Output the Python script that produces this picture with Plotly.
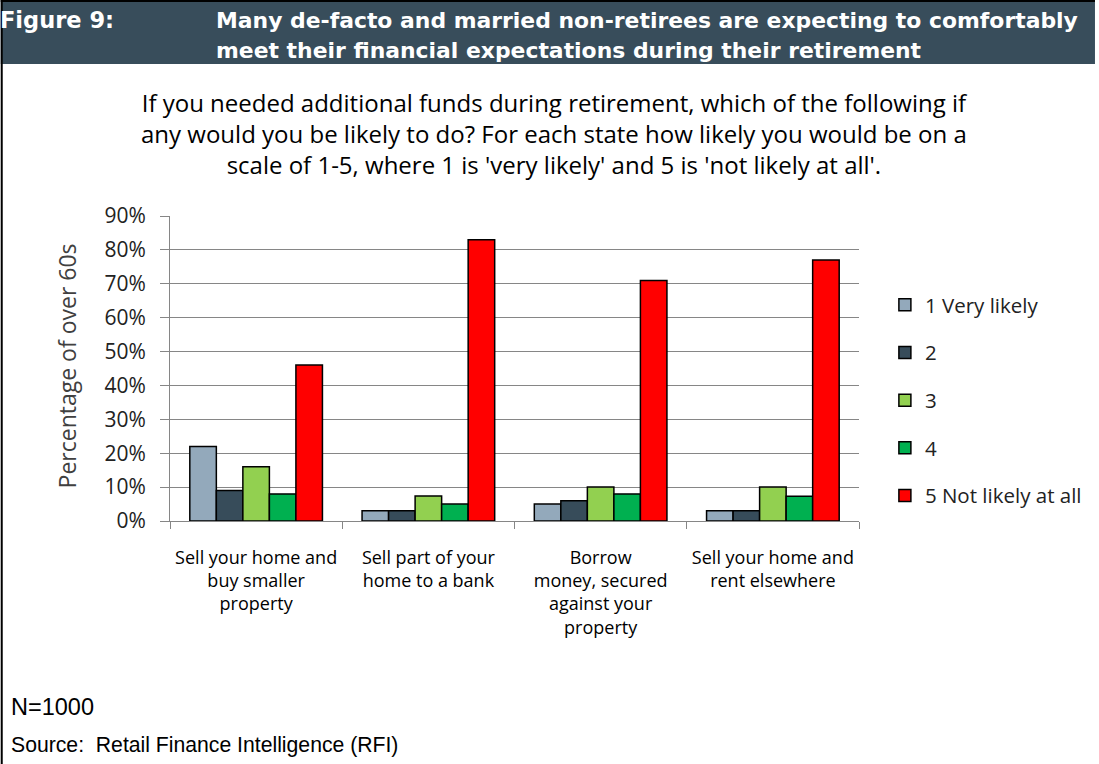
import plotly.graph_objects as go

# Survey data: share of over-60s at each likelihood level for each option
categories = [
    "Sell your home and<br>buy smaller<br>property",
    "Sell part of your<br>home to a bank",
    "Borrow<br>money, secured<br>against your<br>property",
    "Sell your home and<br>rent elsewhere",
]
series_names = ["1 Very likely", "2", "3", "4", "5 Not likely at all"]
very_likely = [0.22, 0.03, 0.05, 0.03]
level_2 = [0.09, 0.03, 0.06, 0.03]
level_3 = [0.16, 0.074, 0.10, 0.10]
level_4 = [0.08, 0.05, 0.08, 0.073]
not_likely = [0.46, 0.83, 0.71, 0.77]
y_ticks = [0, 0.1, 0.2, 0.3, 0.4, 0.5, 0.6, 0.7, 0.8, 0.9]
y_tick_labels = ["0%", "10%", "20%", "30%", "40%", "50%", "60%", "70%", "80%", "90%"]

series_values = [very_likely, level_2, level_3, level_4, not_likely]
colors = ["#93A9BB", "#374C5A", "#92D050", "#00B050", "#FF0000"]

W, H = 1099, 764
L, R, T, B = 170, 862, 216, 521  # plot area in pixels

fig = go.Figure()
for name, vals, col in zip(series_names, series_values, colors):
    fig.add_trace(go.Bar(
        x=categories, y=vals, name=name, legendgroup=name,
        marker=dict(color=col, line=dict(color="#000000", width=1.5)),
    ))

body_font = "'Open Sans', Lato, sans-serif"
head_font = "'DejaVu Sans', Arial, sans-serif"
arial = "'Liberation Sans', Arial, sans-serif"

def px_x(x):
    return (x - L) / (R - L)

def px_y(y):
    return (B - y) / (B - T)

annotations = [
    # header band text
    dict(text="<b>Figure 9:</b>", x=px_x(-3), y=px_y(20), xanchor="left", yanchor="middle",
         font=dict(family=head_font, size=22.5, color="white"), showarrow=False),
    dict(text="<b>Many de-facto and married non-retirees are expecting to comfortably</b>",
         x=px_x(214), y=px_y(20), xanchor="left", yanchor="middle",
         font=dict(family=head_font, size=21.9, color="white"), showarrow=False),
    dict(text="<b>meet their financial expectations during their retirement</b>",
         x=px_x(214), y=px_y(50), xanchor="left", yanchor="middle",
         font=dict(family=head_font, size=21.9, color="white"), showarrow=False),
    # question
    dict(text="If you needed additional funds during retirement, which of the following if<br>"
              "any would you be likely to do? For each state how likely you would be on a<br>"
              "scale of 1-5, where 1 is 'very likely' and 5 is 'not likely at all'.",
         x=px_x(556), y=px_y(133), xanchor="center", yanchor="middle",
         font=dict(family=body_font, size=24, color="#000000"), showarrow=False),
    # y-axis title
    dict(text="Percentage of over 60s", x=px_x(67), y=px_y(366), xanchor="center", yanchor="middle",
         textangle=-90, font=dict(family=body_font, size=23, color="#404040"), showarrow=False),
    # footnotes
    dict(text="N=1000", x=px_x(8), y=px_y(707), xanchor="left", yanchor="middle",
         font=dict(family=arial, size=23.5, color="#000000"), showarrow=False),
    dict(text="Source:  Retail Finance Intelligence (RFI)", x=px_x(8), y=px_y(745),
         xanchor="left", yanchor="middle",
         font=dict(family=arial, size=21.2, color="#000000"), showarrow=False),
]
for a in annotations:
    a["xref"] = "paper"
    a["yref"] = "paper"

shapes = [
    dict(type="rect", xref="paper", yref="paper", x0=px_x(0), x1=px_x(W), y0=px_y(0), y1=px_y(64),
         fillcolor="#384D5B", line=dict(width=0), layer="below"),
    dict(type="line", xref="paper", yref="paper", x0=px_x(0), x1=px_x(W), y0=px_y(1), y1=px_y(1),
         line=dict(color="#000000", width=2)),
    dict(type="line", xref="paper", yref="paper", x0=px_x(1), x1=px_x(1), y0=px_y(0), y1=px_y(H),
         line=dict(color="#000000", width=2)),
]

fig.update_layout(
    width=W, height=H,
    margin=dict(l=L, r=W - R, t=T, b=H - B, pad=0),
    paper_bgcolor="white", plot_bgcolor="white",
    barmode="group", bargap=0.23, bargroupgap=0,
    annotations=annotations, shapes=shapes,
    showlegend=True,
    legend=dict(
        x=px_x(888), y=px_y(285), xanchor="left", yanchor="top",
        font=dict(family=body_font, size=20.5, color="#222222"),
        tracegroupgap=18, traceorder="grouped", bgcolor="rgba(0,0,0,0)",
    ),
    xaxis=dict(
        type="category", range=[-0.5, 3.5],
        showline=True, linecolor="#868686", linewidth=1,
        ticks="outside", tickson="boundaries", ticklen=7, tickcolor="#868686",
        ticklabelstandoff=20,
        tickfont=dict(family=body_font, size=18, color="#000000"),
        showgrid=False,
    ),
    yaxis=dict(
        range=[0, 0.9], tickvals=y_ticks, ticktext=y_tick_labels,
        showline=True, linecolor="#868686", linewidth=1,
        ticks="outside", ticklen=9, tickcolor="#868686",
        ticklabelstandoff=10,
        tickfont=dict(family=body_font, size=21, color="#222222"),
        showgrid=True, gridcolor="#868686", gridwidth=1, zeroline=False,
    ),
)

fig.write_html("out.html")
